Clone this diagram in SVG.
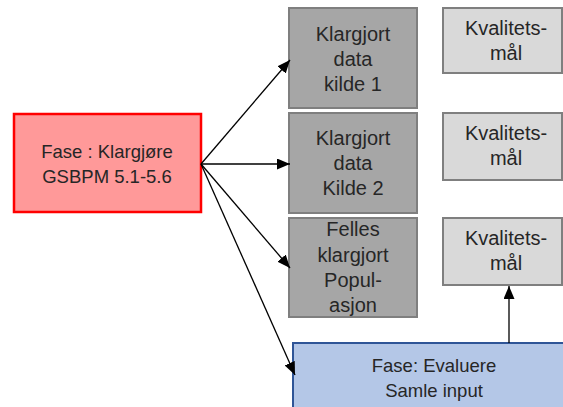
<svg xmlns="http://www.w3.org/2000/svg" width="563" height="407" viewBox="0 0 563 407">
  <defs>
    <marker id="arrow" viewBox="0 0 13 11" refX="13" refY="5.5" markerWidth="13" markerHeight="11" markerUnits="userSpaceOnUse" orient="auto">
      <path d="M0,0 L13,5.5 L0,11 Z" fill="#000"/>
    </marker>
  </defs>
  <style>
    text { font-family: "Liberation Sans", Arial, sans-serif; font-size: 20px; fill: #262626; text-anchor: middle; }
    text.phase-label { font-size: 18.5px; }
    .phase { fill: #ff9999; stroke: #ff0000; stroke-width: 2.5; }
    .data { fill: #a6a6a6; stroke: #7f7f7f; stroke-width: 2; }
    .quality { fill: #d9d9d9; stroke: #7f7f7f; stroke-width: 2; }
    .eval { fill: #b4c7e7; stroke: #2f5597; stroke-width: 2; }
    .conn { stroke: #000; stroke-width: 1.3; fill: none; marker-end: url(#arrow); }
  </style>
  <rect width="563" height="407" fill="#fff"/>

  <g id="klargjore">
    <rect class="phase" x="14" y="114" width="187" height="98"/>
    <text class="phase-label" x="107" y="158">Fase : Klargjøre</text>
    <text class="phase-label" x="107" y="183">GSBPM 5.1-5.6</text>
  </g>

  <g id="kilde1">
    <rect class="data" x="289" y="8" width="128" height="100"/>
    <text x="353" y="41">Klargjort</text>
    <text x="353" y="66">data</text>
    <text x="353" y="91">kilde 1</text>
  </g>

  <g id="kilde2">
    <rect class="data" x="289" y="113" width="128" height="100"/>
    <text x="353" y="145">Klargjort</text>
    <text x="353" y="170">data</text>
    <text x="353" y="195">Kilde 2</text>
  </g>

  <g id="populasjon">
    <rect class="data" x="289" y="218" width="128" height="99"/>
    <text x="353" y="236">Felles</text>
    <text x="353" y="262">klargjort</text>
    <text x="353" y="287">Popul-</text>
    <text x="353" y="312">asjon</text>
  </g>

  <g id="kvalitet1">
    <rect class="quality" x="443" y="8" width="119" height="65"/>
    <text x="506" y="35">Kvalitets-</text>
    <text x="506" y="60">mål</text>
  </g>

  <g id="kvalitet2">
    <rect class="quality" x="443" y="113" width="119" height="67"/>
    <text x="506" y="140">Kvalitets-</text>
    <text x="506" y="165">mål</text>
  </g>

  <g id="kvalitet3">
    <rect class="quality" x="443" y="218" width="119" height="67"/>
    <text x="506" y="245">Kvalitets-</text>
    <text x="506" y="270">mål</text>
  </g>

  <g id="evaluere">
    <rect class="eval" x="293" y="343" width="290" height="80"/>
    <text class="phase-label" x="434" y="372">Fase: Evaluere</text>
    <text class="phase-label" x="434" y="397">Samle input</text>
  </g>

  <g id="connectors">
    <line class="conn" x1="201" y1="164" x2="290" y2="60"/>
    <line class="conn" x1="201" y1="164" x2="290" y2="164"/>
    <line class="conn" x1="201" y1="164" x2="290" y2="268"/>
    <line class="conn" x1="201" y1="164" x2="295" y2="375"/>
    <line class="conn" x1="509" y1="343" x2="509" y2="286"/>
  </g>
</svg>
